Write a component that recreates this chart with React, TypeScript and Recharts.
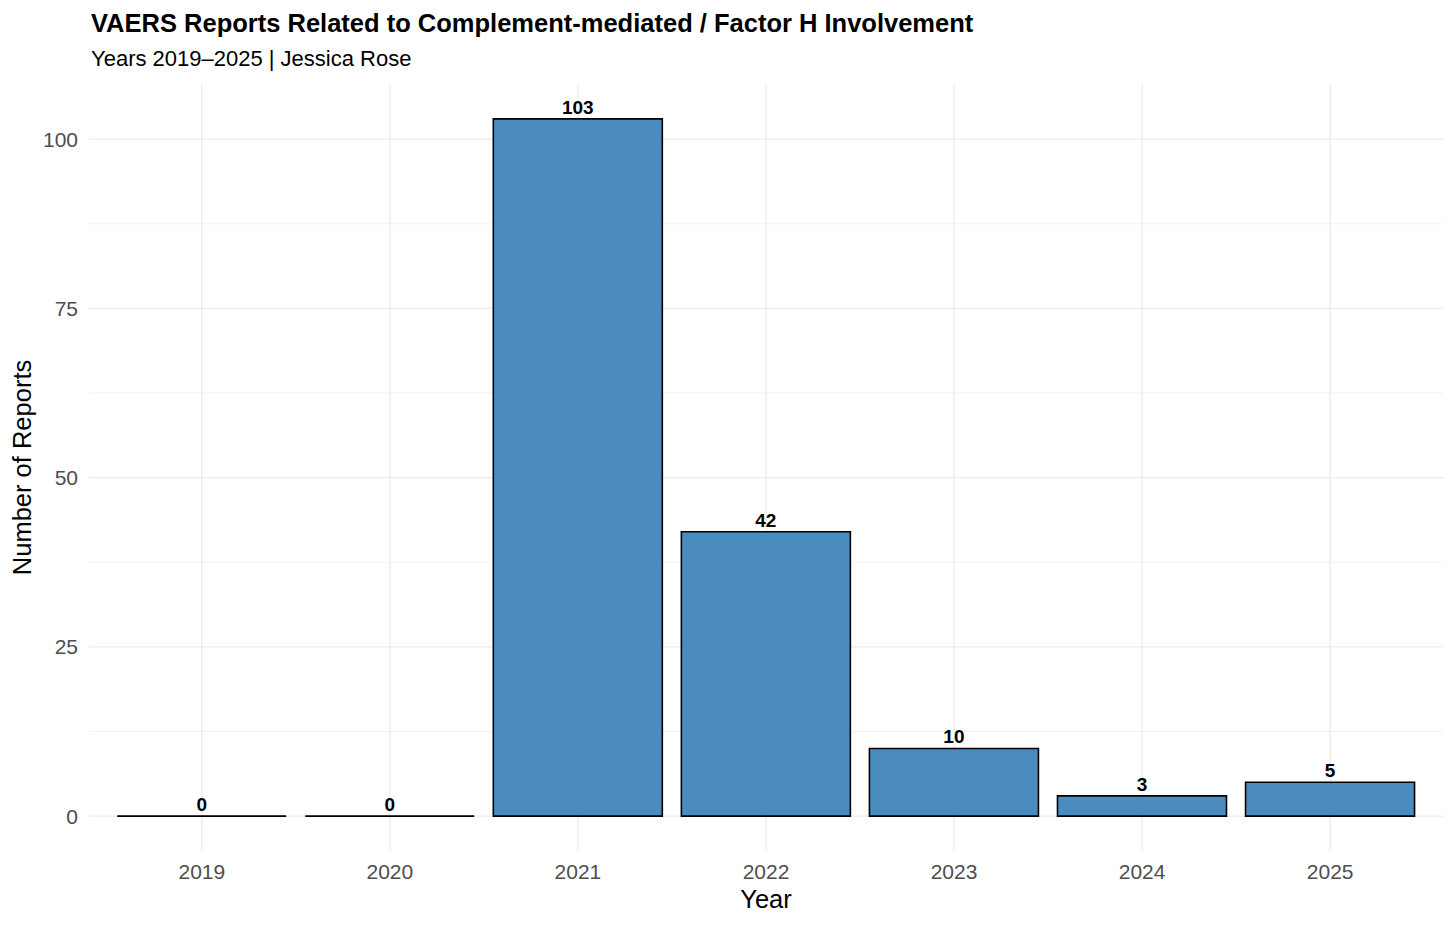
import React from 'react';
import { BarChart, Bar, XAxis, YAxis, CartesianGrid, LabelList } from 'recharts';

const years = ['2019', '2020', '2021', '2022', '2023', '2024', '2025'];
const reports = [0, 0, 103, 42, 10, 3, 5];
const yTicks = [0, 25, 50, 75, 100];
const yMinorTicks = [12.5, 37.5, 62.5, 87.5];

const title = 'VAERS Reports Related to Complement-mediated / Factor H Involvement';
const subtitle = 'Years 2019\u20132025 | Jessica Rose';

const data = years.map((y, i) => ({ year: y, count: reports[i] }));

const FONT = '"Liberation Sans", Arial, Helvetica, sans-serif';

const BarShape = (props: any) => {
  const { x, y, width, height } = props;
  const h = height || 0;
  const top = h >= 0 ? y : y + h;
  const hh = Math.abs(h);
  return (
    <path
      d={`M${x},${top} h${width} v${hh} h${-width} Z`}
      fill="#367fb8"
      fillOpacity={0.9}
      stroke="#000"
      strokeWidth={1.6}
    />
  );
};

const applyScale = (s: any, v: any): number | undefined => {
  try {
    if (typeof s === 'function') return s(v);
    if (s && typeof s.map === 'function') return s.map(v);
    if (s && typeof s.scale === 'function') return s.scale(v);
  } catch (e) {
    return undefined;
  }
  return undefined;
};

const bandOf = (s: any): number => {
  try {
    if (s && typeof s.bandwidth === 'function') return s.bandwidth();
  } catch (e) {
    return 0;
  }
  return 0;
};

const yGen = (vals: number[]) => (p: any) => {
  const s = p && p.yAxis && p.yAxis.scale;
  return vals.map((v) => applyScale(s, v)).filter((n) => typeof n === 'number' && isFinite(n as number)) as number[];
};

const xGen = (p: any) => {
  const s = p && p.xAxis && p.xAxis.scale;
  const bw = bandOf(s);
  return years
    .map((y) => {
      const c = applyScale(s, y);
      return typeof c === 'number' ? c + bw / 2 : undefined;
    })
    .filter((n) => typeof n === 'number' && isFinite(n as number)) as number[];
};

export default function App() {
  return (
    <div style={{ position: 'absolute', left: 0, top: 0, width: 1456, height: 927, background: '#fff', fontFamily: FONT }}>
      <div style={{ position: 'absolute', left: 91, top: 9, fontSize: 25.5, fontWeight: 'bold', color: '#000', whiteSpace: 'nowrap' }}>{title}</div>
      <div style={{ position: 'absolute', left: 91, top: 46, fontSize: 22, color: '#000', whiteSpace: 'nowrap' }}>{subtitle}</div>
      <BarChart
        width={1456}
        height={927}
        data={data}
        margin={{ top: 84, right: 13, bottom: 0, left: 0 }}
        barCategoryGap="5%"
      >
        <CartesianGrid
          stroke="#ebebeb"
          strokeWidth={0.7}
          vertical={false}
          horizontalCoordinatesGenerator={yGen(yMinorTicks)}
        />
        <CartesianGrid
          stroke="#ebebeb"
          strokeWidth={1.3}
          horizontalCoordinatesGenerator={yGen(yTicks)}
          verticalCoordinatesGenerator={xGen}
        />
        <XAxis
          dataKey="year"
          type="category"
          height={76}
          padding={{ left: 18.8, right: 18.8 }}
          axisLine={false}
          tickLine={false}
          tickSize={0}
          tickMargin={13}
          tick={{ fill: '#4d4d4d', fontSize: 21, fontFamily: FONT }}
          label={{ value: 'Year', position: 'insideBottom', offset: 19, fill: '#000', fontSize: 25.5, fontFamily: FONT }}
        />
        <YAxis
          type="number"
          domain={[-5.15, 108.15]}
          ticks={yTicks}
          allowDataOverflow
          width={89}
          axisLine={false}
          tickLine={false}
          tickSize={0}
          tickMargin={11}
          tick={{ fill: '#4d4d4d', fontSize: 21, fontFamily: FONT }}
          label={{ value: 'Number of Reports', angle: -90, position: 'insideLeft', offset: 22, fill: '#000', fontSize: 25.5, fontFamily: FONT, style: { textAnchor: 'middle' } }}
        />
        <Bar dataKey="count" shape={<BarShape />} isAnimationActive={false}>
          <LabelList dataKey="count" position="top" offset={5} fill="#000" fontSize={19} fontWeight="bold" fontFamily={FONT} />
        </Bar>
      </BarChart>
    </div>
  );
}
